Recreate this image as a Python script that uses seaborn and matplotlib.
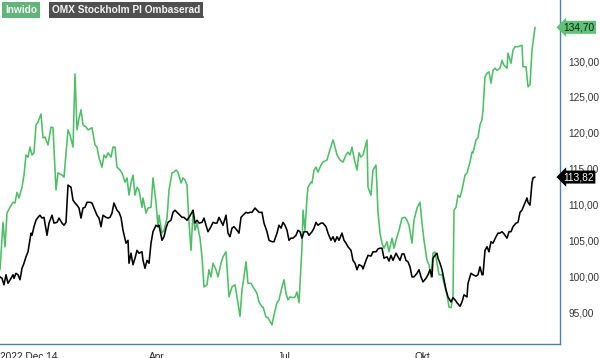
import matplotlib
matplotlib.use("Agg")
import matplotlib.pyplot as plt
import matplotlib.transforms as mtransforms
from matplotlib.lines import Line2D
import pandas as pd
import seaborn as sns

# position on the trading-day time axis (chart units, axis spans 0-560)
inwido_t = [0, 3, 5, 7, 10, 13, 15, 17, 19, 22,
            24, 26, 28, 30, 32, 34, 36, 38, 41, 43,
            45, 48, 51, 53, 56, 58, 62, 64, 68, 70,
            73, 75, 77, 79, 81, 83, 86, 88, 92, 95,
            97, 99, 102, 104, 106, 108, 111, 113, 115, 117,
            120, 122, 125, 127, 129, 131, 133, 135, 137, 139,
            142, 143, 146, 148, 151, 153, 156, 158, 159, 162,
            164, 167, 169, 172, 174, 176, 178, 181, 183, 185,
            187, 189, 191, 193, 195, 197, 200, 202, 204, 207,
            209, 211, 213, 216, 218, 221, 223, 226, 229, 232,
            235, 237, 240, 242, 244, 246, 248, 251, 253, 257,
            259, 262, 263, 266, 268, 272, 274, 277, 279, 282,
            284, 286, 288, 290, 293, 295, 297, 299, 302, 303,
            305, 307, 308, 311, 312, 314, 316, 318, 321, 323,
            327, 329, 333, 335, 337, 340, 343, 346, 348, 350,
            352, 354, 357, 359, 361, 363, 367, 368, 371, 373,
            376, 378, 380, 382, 384, 387, 389, 392, 394, 397,
            399, 402, 405, 407, 409, 412, 414, 417, 420, 422,
            424, 427, 429, 431, 433, 435, 437, 439, 442, 444,
            447, 449, 451, 453, 454, 456, 458, 460, 462, 463,
            465, 467, 470, 472, 473, 476, 478, 480, 482, 483,
            485, 487, 489, 491, 493, 495, 497, 500, 502, 504,
            507, 508, 511, 513, 515, 518, 522, 523, 526, 528,
            530, 532, 535]
inwido_val = [100.9, 107.5, 104.1, 108.8, 109.6, 110.3, 110.2, 111.7, 110.9, 112.4,
              114.1, 116.9, 116.6, 118.0, 116.9, 117.2, 121.1, 121.5, 122.6, 119.3,
              119.4, 118.3, 120.8, 120.7, 112.0, 114.4, 114.1, 113.8, 120.4, 119.7,
              118.0, 128.2, 120.4, 122.0, 123.2, 121.1, 120.8, 120.4, 120.7, 118.3,
              118.0, 116.5, 115.2, 116.9, 116.5, 117.2, 116.6, 118.0, 118.0, 115.2,
              114.8, 114.4, 113.1, 113.7, 111.3, 113.0, 114.1, 111.3, 112.4, 112.0,
              109.6, 110.9, 108.8, 109.5, 109.6, 113.7, 110.3, 106.9, 108.5, 106.0,
              106.4, 108.1, 112.0, 114.4, 114.5, 114.8, 114.5, 113.0, 113.7, 113.4,
              112.7, 107.4, 103.6, 108.9, 106.4, 107.4, 105.3, 102.7, 98.5, 98.8,
              100.9, 99.9, 101.8, 100.9, 99.9, 101.8, 102.7, 103.4, 97.1, 98.5,
              98.8, 97.1, 94.4, 98.1, 99.9, 102.0, 99.0, 99.0, 98.5, 97.6,
              96.4, 95.7, 95.7, 94.3, 94.2, 93.2, 94.6, 96.3, 96.7, 98.5,
              99.5, 97.6, 96.7, 97.1, 97.0, 97.1, 97.8, 96.3, 104.1, 109.2,
              106.4, 111.0, 112.4, 113.1, 113.0, 114.8, 115.2, 114.5, 115.5, 115.9,
              116.2, 117.2, 119.0, 118.0, 116.9, 116.2, 115.9, 116.9, 117.3, 116.9,
              118.0, 116.5, 114.8, 117.2, 116.6, 116.9, 119.0, 112.4, 111.3, 114.8,
              115.5, 108.9, 106.0, 104.6, 103.9, 104.8, 103.4, 105.3, 103.9, 105.5,
              106.4, 108.1, 108.2, 107.8, 107.1, 104.6, 107.8, 109.5, 110.3, 107.4,
              105.0, 102.2, 101.6, 99.9, 103.2, 103.4, 101.8, 100.2, 100.2, 99.0,
              97.4, 95.7, 95.6, 97.1, 109.2, 109.6, 111.3, 111.0, 112.0, 112.7,
              114.1, 114.4, 115.9, 117.3, 117.2, 119.0, 119.3, 121.1, 121.8, 123.2,
              127.8, 128.3, 128.5, 126.9, 128.7, 129.0, 128.7, 129.0, 130.1, 129.4,
              129.0, 131.1, 129.7, 131.5, 132.0, 132.0, 132.2, 129.2, 129.2, 126.4,
              126.7, 131.5, 134.7]

omx_t = [0, 2, 4, 6, 8, 11, 13, 14, 16, 18,
         20, 22, 24, 26, 28, 31, 32, 34, 36, 38,
         40, 42, 44, 47, 49, 52, 54, 57, 59, 62,
         64, 66, 68, 71, 73, 75, 77, 79, 81, 83,
         85, 87, 90, 92, 94, 97, 99, 101, 103, 106,
         108, 110, 112, 114, 117, 119, 121, 123, 126, 128,
         129, 131, 133, 135, 137, 139, 142, 143, 145, 147,
         149, 151, 153, 156, 158, 159, 162, 164, 166, 168,
         171, 173, 175, 177, 180, 182, 184, 187, 189, 192,
         193, 195, 197, 199, 202, 204, 206, 208, 211, 213,
         215, 217, 219, 222, 223, 226, 228, 230, 232, 234,
         237, 239, 241, 243, 246, 248, 250, 252, 255, 257,
         259, 262, 264, 267, 269, 272, 274, 277, 279, 281,
         283, 285, 287, 289, 291, 293, 296, 298, 300, 302,
         304, 307, 309, 312, 314, 316, 318, 321, 323, 326,
         328, 331, 333, 335, 337, 339, 342, 344, 346, 348,
         351, 353, 355, 357, 359, 362, 363, 366, 368, 371,
         373, 376, 378, 380, 382, 384, 387, 389, 391, 393,
         396, 398, 400, 402, 404, 406, 408, 410, 412, 414,
         417, 419, 421, 423, 426, 428, 430, 432, 433, 435,
         437, 438, 440, 442, 444, 446, 448, 451, 453, 455,
         457, 460, 462, 464, 467, 468, 471, 473, 476, 478,
         480, 482, 483, 485, 487, 489, 491, 493, 496, 498,
         500, 502, 504, 507, 509, 511, 513, 516, 518, 520,
         522, 524, 527, 528, 530, 532, 533, 535]
omx_val = [99.9, 99.7, 98.8, 100.2, 99.0, 99.7, 100.2, 99.7, 100.4, 100.2,
           99.5, 101.1, 101.8, 102.7, 103.4, 106.0, 105.7, 106.9, 107.8, 108.2,
           108.5, 108.1, 108.2, 105.7, 107.4, 108.5, 107.4, 107.5, 108.1, 107.4,
           107.1, 107.5, 112.7, 112.4, 110.6, 110.2, 109.9, 109.5, 108.1, 109.5,
           109.6, 110.3, 110.3, 110.2, 109.5, 108.5, 108.1, 106.9, 108.5, 108.2,
           108.1, 108.2, 108.8, 110.2, 109.2, 108.9, 108.2, 106.4, 104.6, 105.0,
           101.8, 103.2, 101.6, 102.5, 103.6, 103.2, 103.4, 102.2, 101.1, 102.2,
           101.8, 104.6, 106.2, 107.1, 106.9, 107.1, 105.0, 105.5, 106.7, 107.5,
           107.8, 108.9, 109.2, 108.9, 108.5, 108.2, 108.2, 107.8, 108.2, 108.9,
           109.2, 107.4, 107.8, 107.4, 107.5, 108.1, 107.1, 106.2, 106.9, 107.5,
           107.4, 107.4, 108.2, 107.4, 107.1, 108.5, 106.0, 105.5, 106.7, 106.9,
           106.4, 106.0, 108.2, 108.5, 108.9, 108.8, 108.9, 108.9, 109.5, 109.2,
           108.9, 108.9, 107.4, 106.2, 105.0, 104.8, 104.8, 106.0, 107.1, 106.7,
           107.5, 107.1, 106.4, 105.0, 105.3, 105.3, 105.7, 106.4, 106.2, 105.3,
           106.2, 106.2, 105.7, 106.2, 106.7, 107.5, 107.1, 107.4, 107.4, 106.9,
           106.0, 105.0, 105.5, 104.8, 105.5, 105.0, 106.0, 105.0, 104.6, 104.1,
           103.6, 102.2, 101.8, 100.9, 101.6, 101.4, 101.0, 102.2, 102.9, 102.8,
           103.4, 103.4, 103.8, 103.9, 103.9, 102.5, 102.7, 102.1, 102.9, 102.2,
           103.2, 102.7, 102.2, 103.1, 103.1, 102.2, 102.0, 101.3, 99.9, 99.9,
           100.4, 100.9, 99.9, 99.2, 99.7, 100.2, 100.9, 99.9, 102.5, 102.9,
           103.2, 102.5, 101.8, 100.9, 99.5, 98.1, 97.1, 96.4, 97.0, 96.7,
           96.3, 95.8, 96.4, 97.4, 97.1, 99.0, 100.4, 100.2, 100.0, 100.2,
           101.3, 100.2, 100.2, 103.6, 104.1, 103.4, 104.8, 104.6, 105.5, 106.0,
           106.0, 106.2, 105.9, 105.3, 106.2, 106.2, 106.9, 107.4, 107.5, 108.9,
           109.2, 109.9, 110.9, 110.3, 109.9, 113.0, 113.7, 113.82]

tick_pos = [22, 157, 284, 422]
tick_lab = ["2022 Dec 14", "Apr", "Jul", "Okt"]
report_pos = [204]
y_ticks = [95, 100, 105, 110, 115, 120, 125, 130]

green = "#4fbf67"
frame = "#4a82a8"

sns.set_style("white")
plt.rcParams["font.family"] = ["Liberation Sans", "DejaVu Sans"]

fig = plt.figure(figsize=(6.0, 3.58), dpi=100)
ax = fig.add_axes([0, 14 / 358, 560 / 600, 344 / 358])

df_g = pd.DataFrame({"t": inwido_t, "v": inwido_val})
df_b = pd.DataFrame({"t": omx_t, "v": omx_val})
sns.lineplot(data=df_g, x="t", y="v", ax=ax, color=green, lw=1.15, sort=False)
sns.lineplot(data=df_b, x="t", y="v", ax=ax, color="black", lw=1.15, sort=False)

ax.set_xlim(0, 560)
ax.set_ylim(90.54, 138.51)
ax.set_xlabel("")
ax.set_ylabel("")

for s in ["top", "left"]:
    ax.spines[s].set_visible(False)
for s in ["right", "bottom"]:
    ax.spines[s].set_color(frame)
    ax.spines[s].set_linewidth(1.0)

ax.yaxis.tick_right()
ax.set_yticks(y_ticks)
ax.set_yticklabels([f"{v:.2f}".replace(".", ",") for v in y_ticks])
ax.tick_params(axis="y", length=0, pad=6, labelsize=7.3, labelcolor="#333333")

ax.set_xticks(tick_pos)
ax.set_xticklabels(tick_lab)
ax.tick_params(axis="x", which="major", length=3, width=1, color=frame,
               direction="out", pad=2.5, labelsize=7.3, labelcolor="#222222")
ax.set_xticks(report_pos, minor=True)
ax.tick_params(axis="x", which="minor", length=3, width=1, color="#e04040",
               direction="out")
first = ax.get_xticklabels()[0]
first.set_transform(first.get_transform()
                    + mtransforms.ScaledTranslation(0.07, 0, fig.dpi_scale_trans))

# last value tags
ax.text(1.006, inwido_val[-1], f"{inwido_val[-1]:.2f}".replace(".", ","),
        transform=ax.get_yaxis_transform(), va="center", ha="left",
        fontsize=7.3, color="#1a1a1a",
        bbox=dict(boxstyle="larrow,pad=0.15", fc="#5cc474", ec="none"))
ax.text(1.006, omx_val[-1], f"{omx_val[-1]:.2f}".replace(".", ","),
        transform=ax.get_yaxis_transform(), va="center", ha="left",
        fontsize=7.3, color="white",
        bbox=dict(boxstyle="larrow,pad=0.15", fc="black", ec="none"))

# legend chips
fig.text(5 / 600, 1 - 10 / 358, "Inwido", fontsize=7.3, fontweight="bold",
         color="#f4f4f4", va="center", ha="left",
         bbox=dict(boxstyle="square,pad=0.25", fc="#62b578", ec="none"))
fig.text(52 / 600, 1 - 10 / 358, "OMX Stockholm PI Ombaserad", fontsize=7.3,
         fontweight="bold", color="#f4f4f4", va="center", ha="left",
         bbox=dict(boxstyle="square,pad=0.25", fc="#505050", ec="none"))
fig.add_artist(Line2D([2.5 / 600, 39.5 / 600], [1 - 17 / 358] * 2,
                      transform=fig.transFigure, color="#3ec25f", lw=1.2))
fig.add_artist(Line2D([49.5 / 600, 202.5 / 600], [1 - 17 / 358] * 2,
                      transform=fig.transFigure, color="black", lw=1.2))

fig.savefig("out.png", dpi=100)
